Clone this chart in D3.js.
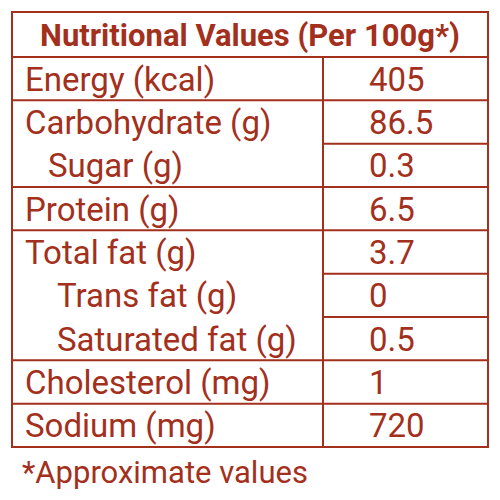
<!DOCTYPE html>
<html><head><meta charset="utf-8">
<script src="https://cdn.jsdelivr.net/npm/d3@7"></script>
<style>body{margin:0;background:#fff}</style></head>
<body><svg width="500" height="500"></svg>
<script>
const title = "Nutritional Values (Per 100g*)";
const nutrients = ["Energy (kcal)", "Carbohydrate (g)", "Sugar (g)", "Protein (g)", "Total fat (g)", "Trans fat (g)", "Saturated fat (g)", "Cholesterol (mg)", "Sodium (mg)"];
const amounts = ["405", "86.5", "0.3", "6.5", "3.7", "0", "0.5", "1", "720"];
const indents = [0, 0, 1, 0, 0, 2, 2, 0, 0];
// rows that continue the group above (no line in the label column)
const subRows = [false, false, true, false, false, true, true, false, false];
const footnote = "*Approximate values";

const svg = d3.select("svg");
const col = "#a3301c";
const font = "'Liberation Sans Narrow', 'Roboto', sans-serif";
const boxL = 12, boxR = 488, mid = 323, boxT = 12, head = 57, boxB = 447;

const y = d3.scaleBand().domain(d3.range(nutrients.length)).range([head, boxB]);
const indentX = d3.scaleOrdinal().domain([0, 1, 2]).range([25, 48, 57]);

svg.append("rect").attr("x", boxL).attr("y", boxT).attr("width", boxR - boxL).attr("height", boxB - boxT)
  .attr("fill", "none").attr("stroke", col).attr("stroke-width", 2);
svg.append("line").attr("x1", boxL).attr("x2", boxR).attr("y1", head).attr("y2", head).attr("stroke", col).attr("stroke-width", 2);
svg.append("line").attr("x1", mid).attr("x2", mid).attr("y1", head).attr("y2", boxB).attr("stroke", col).attr("stroke-width", 2);

const rows = svg.append("g").selectAll("g").data(nutrients).join("g");
rows.filter((d, i) => i > 0).append("line")
  .attr("x1", (d, i) => subRows[i + 1] ? mid : boxL).attr("x2", boxR)
  .attr("y1", (d, i) => y(i + 1)).attr("y2", (d, i) => y(i + 1))
  .attr("stroke", col).attr("stroke-width", 2);
rows.append("text").attr("x", (d, i) => indentX(indents[i])).attr("y", (d, i) => y(i) + y.bandwidth() / 2 + 12)
  .attr("fill", col).attr("font-family", font).attr("font-size", 33).text(d => d);
rows.append("text").attr("x", 369).attr("y", (d, i) => y(i) + y.bandwidth() / 2 + 12)
  .attr("fill", col).attr("font-family", font).attr("font-size", 33).text((d, i) => amounts[i]);

svg.append("text").attr("x", 250).attr("y", 46).attr("text-anchor", "middle").attr("fill", col)
  .attr("font-family", font).attr("font-weight", "bold").attr("font-size", 31).text(title);
svg.append("text").attr("x", 22).attr("y", 483).attr("fill", col)
  .attr("font-family", font).attr("font-size", 31).text(footnote);
</script></body></html>
